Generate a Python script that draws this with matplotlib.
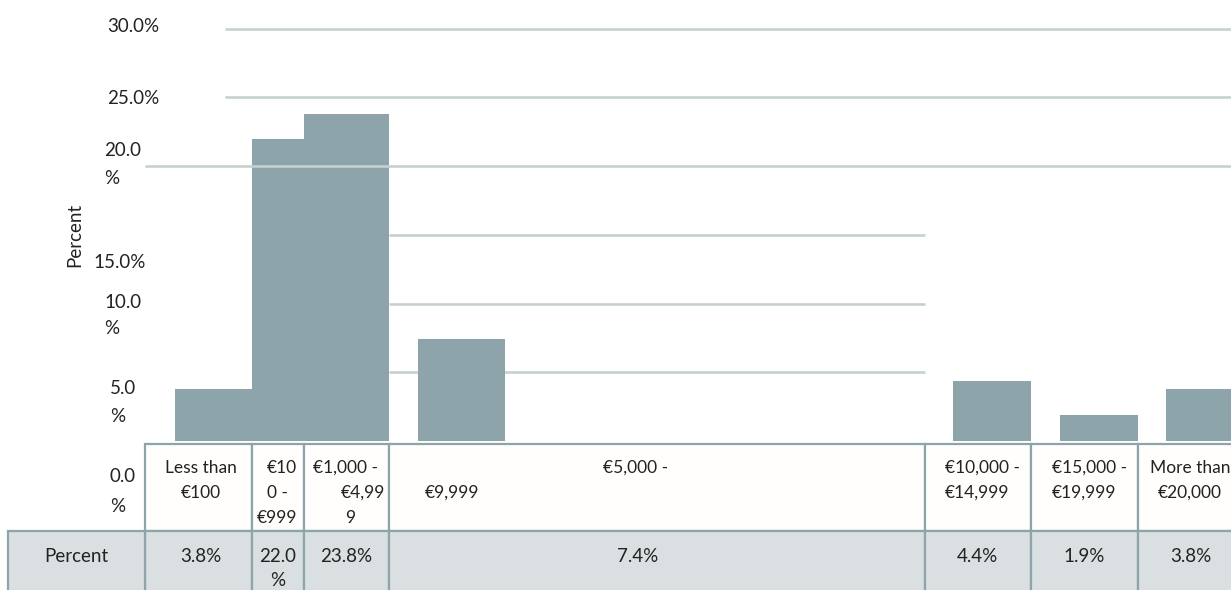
import matplotlib
matplotlib.use("Agg")
import matplotlib.pyplot as plt
from matplotlib.patches import Rectangle
import numpy as np

plt.rcParams['font.family'] = ['Lato', 'DejaVu Sans']

# spending bands and their share of respondents
categories = ["Less than €100", "€100 - €999", "€1,000 - €4,999", "€5,000 - €9,999",
              "€10,000 - €14,999", "€15,000 - €19,999", "More than €20,000"]
percent = [3.8, 22.0, 23.8, 7.4, 4.4, 1.9, 3.8]
value_labels = ["3.8%", "22.0\n%", "23.8%", "7.4%", "4.4%", "1.9%", "3.8%"]
tick_values = [30, 25, 20, 15, 10, 5]

# layout (pixels from the left / top of the page)
W, H = 1231, 590
col_edges = [145, 252, 304, 389, 925, 1031, 1138, 1244]
bar_left = np.array([175, 252, 304, 418, 953, 1060, 1166])
bar_right = np.array([252, 304, 389, 505, 1031, 1138, 1244])
grid_span = [(225, W), (225, W), (145, W), (389, 925), (389, 925), (389, 925)]
zero_px, px_per_pct = 441, 13.75

bar_col = "#8DA5AA"
grid_col = "#C6D0D1"
cell_col = "#DADFE1"
line_col = "#8DA5AA"
txt_col = "#222222"
fs = 13.5

fig = plt.figure(figsize=(W / 100, H / 100), dpi=100)

# table and text layer in page pixels
tab = fig.add_axes([0, 0, 1, 1])
tab.set_xlim(0, W)
tab.set_ylim(H, 0)
tab.axis("off")

# bar layer in percent
ax = fig.add_axes([0, 0, 1, 1])
ax.set_xlim(0, W)
ax.set_ylim((zero_px - H) / px_per_pct, zero_px / px_per_pct)
ax.axis("off")
ax.patch.set_alpha(0)

for v, (x0, x1) in zip(tick_values, grid_span):
    ax.hlines(v, x0, x1, color=grid_col, lw=1.9, zorder=4 if v == 20 else 1)

ax.bar(bar_left, percent, width=bar_right - bar_left, align="edge",
       color=bar_col, edgecolor="none", zorder=2)

# table: header row with category labels, value row below
row1_top, row2_top, row_bot = 444, 531, 600
for x0, x1 in zip(col_edges[:-1], col_edges[1:]):
    tab.add_patch(Rectangle((x0, row1_top), x1 - x0, row2_top - row1_top,
                            facecolor="#FFFEFD", edgecolor=line_col, lw=1.6))
    tab.add_patch(Rectangle((x0, row2_top), x1 - x0, row_bot - row2_top,
                            facecolor=cell_col, edgecolor=line_col, lw=1.6))
tab.add_patch(Rectangle((8, row2_top), col_edges[0] - 8, row_bot - row2_top,
                        facecolor=cell_col, edgecolor=line_col, lw=1.6))

def put(x, y, s, ha="left", size=fs):
    tab.text(x, y, s, ha=ha, va="center", fontsize=size, color=txt_col)

# category text, wrapped the way it sits in the narrow cells
y1, y2, y3 = 468, 493, 518
put(201, y1, "Less than", "center", 12.5)
put(201, y2, "€100", "center", 12.5)
put(297, y1, "€10", "right", 12.5)
put(288, y2, "0 -", "right", 12.5)
put(297, y3, "€999", "right", 12.5)
put(313, y1, "€1,000 -", "left", 12.5)
put(385, y2, "€4,99", "right", 12.5)
put(345, y3, "9", "left", 12.5)
put(636, y1, "€5,000 -", "center", 12.5)
put(425, y2, "€9,999", "left", 12.5)
put(945, y1, "€10,000 -", "left", 12.5)
put(945, y2, "€14,999", "left", 12.5)
put(1052, y1, "€15,000 -", "left", 12.5)
put(1052, y2, "€19,999", "left", 12.5)
put(1190, y1, "More than", "center", 12.5)
put(1190, y2, "€20,000", "center", 12.5)

# value row
put(76, 557, "Percent", "center")
val_x = [201, 278, 346, 638, 977, 1084, 1191]
for x, s in zip(val_x, value_labels):
    lines = s.split("\n")
    for k, line in enumerate(lines):
        put(x, 557 + 23 * k, line, "center")

# y axis labels
put(107, 26, "30.0%")
put(107, 98, "25.0%")
put(104, 150, "20.0")
put(104, 178, "%")
put(93, 263, "15.0%")
put(104, 302, "10.0")
put(104, 329, "%")
put(110, 389, "5.0")
put(110, 417, "%")
put(110, 477, "0.0")
put(110, 507, "%")
tab.text(75, 235, "Percent", rotation=90, ha="center", va="center",
         fontsize=fs, color=txt_col)

fig.savefig("out.png", dpi=100)
